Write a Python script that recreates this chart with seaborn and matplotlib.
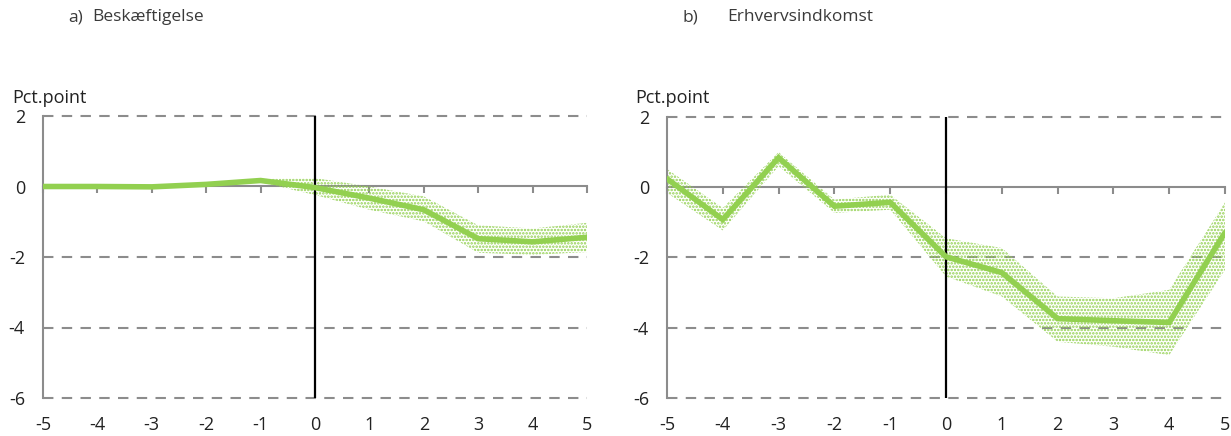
import numpy as np
import pandas as pd
import matplotlib
matplotlib.use("Agg")
import matplotlib.pyplot as plt
import seaborn as sns

years = [-5, -4, -3, -2, -1, 0, 1, 2, 3, 4, 5]
yticks = [2, 0, -2, -4, -6]

emp_est = [0.0, 0.0, -0.01, 0.06, 0.17, -0.03, -0.33, -0.66, -1.48, -1.57, -1.44]
emp_low = [None, None, None, None, 0.12, -0.24, -0.66, -0.99, -1.88, -1.94, -1.86]
emp_high = [None, None, None, None, 0.22, 0.24, 0.0, -0.28, -1.10, -1.19, -1.03]

inc_est = [0.24, -0.92, 0.84, -0.54, -0.43, -1.98, -2.43, -3.74, -3.80, -3.85, -1.29]
inc_low = [-0.16, -1.23, 0.60, -0.73, -0.64, -2.54, -3.11, -4.40, -4.54, -4.78, -2.35]
inc_high = [0.52, -0.59, 1.00, -0.35, -0.21, -1.45, -1.73, -3.11, -3.16, -2.92, -0.43]

titles = [("a)", "Beskæftigelse"), ("b)", "Erhvervsindkomst")]
ylabel = "Pct.point"

GREEN = "#92D050"
GRID = "#8c8c8c"
TEXT = "#222222"

sns.set_style("white")
plt.rcParams["font.family"] = ["Open Sans", "DejaVu Sans"]
plt.rcParams["hatch.linewidth"] = 1.2

fig = plt.figure(figsize=(12.31, 4.36), dpi=100)
ax1 = fig.add_axes([43 / 1231, 38 / 436, 544 / 1231, 282 / 436])
ax2 = fig.add_axes([667 / 1231, 38 / 436, 558 / 1231, 281 / 436])

panels = [
    (ax1, emp_est, emp_low, emp_high),
    (ax2, inc_est, inc_low, inc_high),
]

for ax, est, low, high in panels:
    df = pd.DataFrame({"year": years, "est": est,
                       "low": pd.to_numeric(pd.Series(low), errors="coerce"),
                       "high": pd.to_numeric(pd.Series(high), errors="coerce")})
    band = df.dropna()
    ax.fill_between(band["year"], band["low"], band["high"], facecolor="none",
                    edgecolor=GREEN, hatch=".....", linewidth=0, zorder=2)
    sns.lineplot(data=df, x="year", y="est", ax=ax, color=GREEN, linewidth=4,
                 zorder=4, solid_joinstyle="miter")
    ax.set_xlim(-5, 5)
    ax.set_ylim(-6, 2)
    ax.set_xlabel("")
    ax.set_ylabel("")
    for y in [2, -2, -4, -6]:
        ax.axhline(y, color=GRID, linewidth=1.5, linestyle=(0, (5, 4)), zorder=1,
                   clip_on=False)
    ax.axvline(0, color="black", linewidth=1.6, zorder=3)
    for s in ["top", "right"]:
        ax.spines[s].set_visible(False)
    ax.spines["left"].set_color(GRID)
    ax.spines["left"].set_linewidth(1.5)
    ax.spines["bottom"].set_position(("data", 0))
    ax.spines["bottom"].set_color(GRID)
    ax.spines["bottom"].set_linewidth(1.5)
    ax.spines["bottom"].set_zorder(1)
    ax.set_xticks(years)
    ax.tick_params(axis="x", direction="out", length=5, width=1.5, color=GRID,
                   labelbottom=False, bottom=True)
    ax.set_yticks(yticks)
    ax.set_yticklabels([str(v) for v in yticks])
    ax.tick_params(axis="y", length=0, pad=13, labelsize=13, labelcolor=TEXT)
    sec = ax.secondary_xaxis("bottom")
    sec.set_xticks(years)
    sec.set_xticklabels([str(v) for v in years])
    sec.tick_params(length=0, pad=13, labelsize=13, labelcolor=TEXT)
    sec.spines["bottom"].set_visible(False)

fig.text(12 / 1231, 1 - 98 / 436, ylabel, fontsize=13, color=TEXT, va="center")
fig.text(635 / 1231, 1 - 98 / 436, ylabel, fontsize=13, color=TEXT, va="center")

TCOL = "#3a3a3a"
fig.text(68 / 1231, 1 - 17 / 436, titles[0][0], fontsize=12.5, color=TCOL, va="center")
fig.text(92 / 1231, 1 - 17 / 436, titles[0][1], fontsize=12.5, color=TCOL, va="center")
fig.text(682 / 1231, 1 - 17 / 436, titles[1][0], fontsize=12.5, color=TCOL, va="center")
fig.text(727 / 1231, 1 - 17 / 436, titles[1][1], fontsize=12.5, color=TCOL, va="center")

fig.savefig("out.png", dpi=100)
